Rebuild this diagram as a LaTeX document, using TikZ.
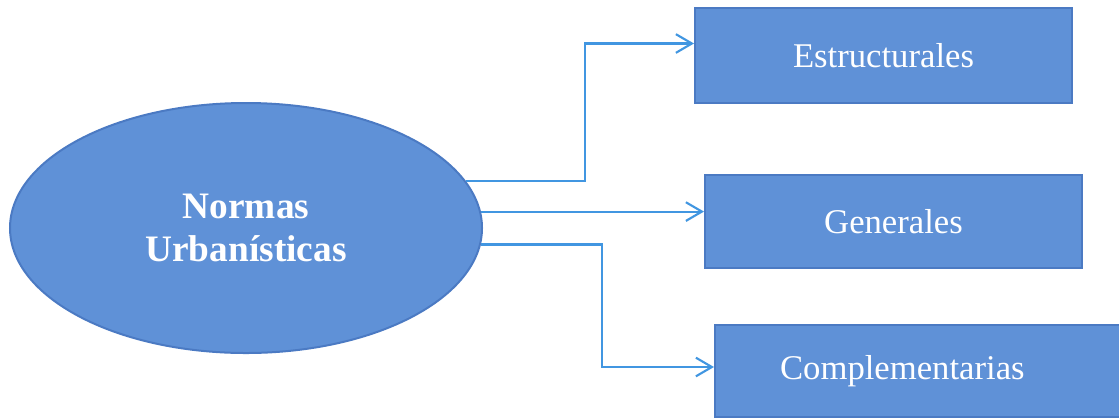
\documentclass[tikz,border=0pt]{standalone}
\usepackage{fontspec}
\setmainfont{Liberation Serif}
\usetikzlibrary{shapes.geometric}
\usetikzlibrary{arrows.meta}

\definecolor{boxblue}{RGB}{95,145,215}
\definecolor{edgeblue}{RGB}{75,122,195}
\definecolor{linkblue}{RGB}{65,150,225}

\begin{document}
\begin{tikzpicture}[x=0.75pt,y=-0.75pt,>={Straight Barb[length=12pt,width=14pt]},
    main node/.style={ellipse,draw=edgeblue,line width=1.5pt,fill=boxblue,text=white,minimum width=354pt,minimum height=187.5pt,align=center,font=\fontsize{28}{32}\selectfont\bfseries},
    box node/.style={rectangle,draw=edgeblue,line width=1.5pt,fill=boxblue,text=white,font=\fontsize{26}{30}\selectfont},
    link/.style={->,draw=linkblue,line width=1.6pt}]

   \useasboundingbox (0,0) rectangle (1119,419);

   \node[main node] (norms) at (246,228) {Normas\\Urbanísticas};

   \node[box node,minimum width=282.75pt,minimum height=71.25pt] (estr) at (883.5,55.5) {Estructurales};
   \node[box node,minimum width=282.75pt,minimum height=69.75pt] (gen) at (893.5,221.5) {Generales};
   % runs past the right edge
   \node[box node,minimum width=345pt,minimum height=69pt] (compl) at (945,371) {\hspace*{-64pt}Complementarias};

   \coordinate (splitup) at (585,0);
   \coordinate (splitdown) at (602,0);

   \draw[link] (norms.12) -- (norms.12 -| splitup) |- ([yshift=9pt]estr.west);
   \draw[link] (norms.4) -- (norms.4 -| gen.west);
   \draw[link] (norms.356) -- (norms.356 -| splitdown) |- ([yshift=3pt]compl.west);

\end{tikzpicture}
\end{document}
